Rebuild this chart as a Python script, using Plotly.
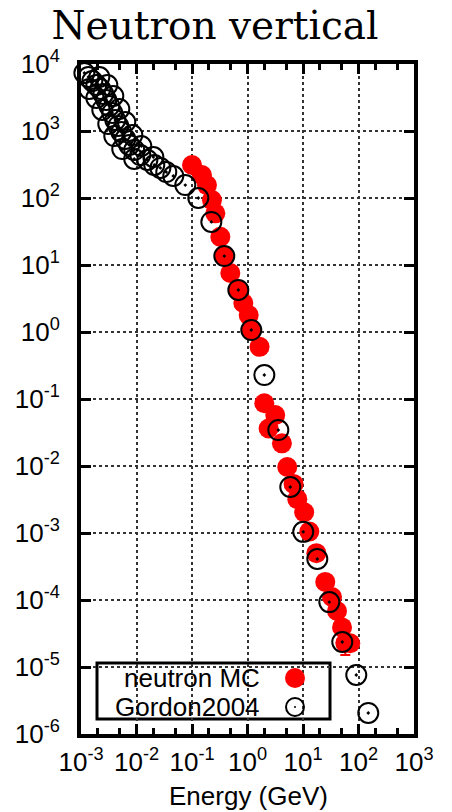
import plotly.graph_objects as go

# ---- data ----
mc_energy = [0.100, 0.151, 0.186, 0.229, 0.263, 0.324, 0.386, 0.490, 0.674, 0.840,
             1.05, 1.17, 1.65, 2.01, 3.16, 2.40, 4.17, 5.20, 6.76, 7.90,
             10.5, 13.0, 17.4, 25.2, 33.3, 41.0, 50.5, 57.8, 71.0]
mc_flux = [311, 220, 156, 93, 59, 26.3, 13.6, 7.6, 4.24, 2.71,
           1.79, 1.07, 0.60, 0.0863, 0.0575, 0.0363, 0.0218, 0.00966, 0.0054, 0.0032,
           0.00204, 0.00105, 5.0e-4, 1.86e-4, 1.11e-4, 6.85e-5, 3.9e-5, 2.28e-5, 2.26e-5]
mc_err_minus = [0] * 27 + [0.77e-5, 0]

gordon_energy = [0.00097, 0.00115, 0.00136, 0.0016, 0.00189, 0.00223, 0.00252, 0.00286,
                 0.00324, 0.00366, 0.00415, 0.0047, 0.00532, 0.00628, 0.0074, 0.0091,
                 0.0117, 0.0157, 0.0209, 0.0269, 0.0344, 0.046, 0.0757, 0.130, 0.223,
                 0.382, 0.683, 1.17, 2.01, 3.59, 5.9, 10.1, 18.1, 29.8, 51.0, 91.2, 150,
                 0.00214, 0.00298, 0.00382, 0.0049, 0.00628, 0.0084, 0.0122, 0.0201,
                 0.00141, 0.00189, 0.00242, 0.0031, 0.00398, 0.00554, 0.0091]
gordon_flux = [8130, 7350, 6400, 5570, 4860, 4240, 3570, 2900,
               2360, 1860, 1460, 1190, 966, 760, 618, 520,
               438, 369, 311, 281, 244, 213, 156, 100, 43.9,
               13.6, 4.24, 1.07, 0.228, 0.0344, 0.00486, 0.00104, 4.09e-4, 9.3e-5, 2.36e-5, 7.6e-6, 2.06e-6,
               6400, 4860, 3330, 2130, 1360, 871, 597, 409,
               4240, 3110, 2060, 1270, 841, 538, 382]

x_tickvals = [1e-3, 1e-2, 1e-1, 1e0, 1e1, 1e2, 1e3]
x_ticktext = ["10<sup>-3</sup>", "10<sup>-2</sup>", "10<sup>-1</sup>", "10<sup>0</sup>",
              "10<sup>1</sup>", "10<sup>2</sup>", "10<sup>3</sup>"]
x_minorvals = [m * 10.0 ** e for e in range(-3, 3) for m in (2, 5)]
y_tickvals = [10.0 ** e for e in range(-6, 5)]
y_ticktext = ["10<sup>%d</sup>" % e for e in range(-6, 5)]

title_text = "Neutron vertical"
x_title = "Energy (GeV)"
legend_labels = ["neutron MC", "Gordon2004"]

FONT = "Liberation Sans, Arial, sans-serif"

fig = go.Figure()
fig.add_trace(go.Scatter(
    x=mc_energy, y=mc_flux, mode="markers", name=legend_labels[0],
    marker=dict(symbol="circle", size=20, color="#ff0000", line=dict(width=0)),
    error_y=dict(type="data", symmetric=False, array=[0] * len(mc_flux),
                 arrayminus=mc_err_minus, color="#ff0000", thickness=2, width=5),
    cliponaxis=False, showlegend=False,
))
fig.add_trace(go.Scatter(
    x=gordon_energy, y=gordon_flux, mode="markers", name=legend_labels[1],
    marker=dict(symbol="circle-open-dot", size=20, color="black", line=dict(width=2)),
    cliponaxis=False, showlegend=False,
))

axis_common = dict(
    type="log", showline=True, linecolor="black", linewidth=4, mirror="allticks",
    ticks="inside", ticklen=10, tickwidth=3, tickcolor="black",
    showgrid=True, gridcolor="#333333", griddash="dot",
    zeroline=False, tickfont=dict(family=FONT, size=26, color="black"),
)

fig.update_xaxes(
    **axis_common, range=[-3, 3], tickmode="array", tickvals=x_tickvals, ticktext=x_ticktext,
    gridwidth=1.5, ticklabelstandoff=2,
    minor=dict(tickmode="array", tickvals=x_minorvals, ticks="inside", ticklen=6,
               tickwidth=3, tickcolor="black", showgrid=False),
)
fig.update_yaxes(
    **axis_common, range=[-6, 4], tickmode="array", tickvals=y_tickvals, ticktext=y_ticktext,
    gridwidth=2, ticklabelstandoff=12,
)

# legend box drawn like the original (text left, symbol right)
shapes = [
    dict(type="rect", xref="paper", yref="paper", x0=(97 - 81) / 333, x1=(330 - 81) / 333,
         y0=(734 - 719) / 670, y1=(734 - 663) / 670, fillcolor="white",
         line=dict(color="black", width=3), layer="between"),
    dict(type="circle", xref="paper", yref="paper", xsizemode="pixel", ysizemode="pixel",
         xanchor=(295 - 81) / 333, yanchor=(734 - 678) / 670, x0=-10, x1=10, y0=-10, y1=10,
         fillcolor="#ff0000", line=dict(width=0), layer="above"),
    dict(type="circle", xref="paper", yref="paper", xsizemode="pixel", ysizemode="pixel",
         xanchor=(295 - 81) / 333, yanchor=(734 - 707) / 670, x0=-9, x1=9, y0=-9, y1=9,
         fillcolor="rgba(0,0,0,0)", line=dict(color="black", width=2), layer="above"),
    dict(type="circle", xref="paper", yref="paper", xsizemode="pixel", ysizemode="pixel",
         xanchor=(295 - 81) / 333, yanchor=(734 - 707) / 670, x0=-1, x1=1, y0=-1, y1=1,
         fillcolor="black", line=dict(width=0), layer="above"),
]
annotations = [
    dict(text=legend_labels[0], xref="paper", yref="paper", x=(262 - 81) / 333,
         y=(734 - 678) / 670, xanchor="right", yanchor="middle", showarrow=False,
         font=dict(family=FONT, size=26, color="black")),
    dict(text=legend_labels[1], xref="paper", yref="paper", x=(262 - 81) / 333,
         y=(734 - 707) / 670, xanchor="right", yanchor="middle", showarrow=False,
         font=dict(family=FONT, size=26, color="black")),
    dict(text=x_title, xref="paper", yref="paper", x=(248 - 81) / 333,
         y=(734 - 796) / 670, xanchor="center", yanchor="middle", showarrow=False,
         font=dict(family=FONT, size=26, color="black")),
]

fig.update_layout(
    width=452, height=812,
    margin=dict(l=81, r=38, t=64, b=78, autoexpand=False),
    paper_bgcolor="white", plot_bgcolor="white",
    title=dict(text=title_text, x=215 / 452, xanchor="center", y=1 - 25 / 812,
               yanchor="middle", font=dict(family="DejaVu Serif, serif", size=39, color="black")),
    shapes=shapes, annotations=annotations, showlegend=False,
)

fig.write_html("out.html", config={"displayModeBar": False},
               post_script="document.body.style.margin='0';document.body.style.overflow='hidden';")
